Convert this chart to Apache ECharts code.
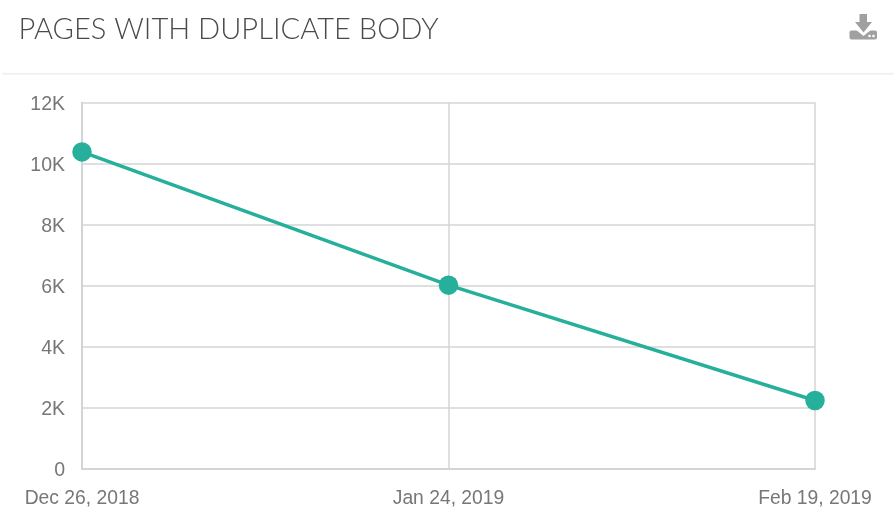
<!DOCTYPE html>
<html><head><meta charset="utf-8">
<style>html,body{margin:0;padding:0;background:#fff}#c{width:894px;height:529px}</style>
<script src="https://cdn.jsdelivr.net/npm/echarts@6/dist/echarts.min.js"></script>
</head><body><div id="c"></div>
<script>
const categories = ["Dec 26, 2018", "Jan 24, 2019", "Feb 19, 2019"];
const pages = [10380, 6010, 2230];
const titleText = "PAGES WITH DUPLICATE BODY";
const yMax = 12000, yStep = 2000;
const chart = echarts.init(document.getElementById('c'), null, {renderer:'canvas'});
const labelFont = '"Liberation Sans", Arial, sans-serif';
chart.setOption({
  animation:false,
  backgroundColor:'#fff',
  title:{text:titleText,left:13.5,top:10,textStyle:{fontFamily:'Lato, sans-serif',fontWeight:300,fontSize:29.1,color:'#4a4a4a'}},
  grid:{left:82,right:79,top:102.5,bottom:60.5,show:false},
  xAxis:{type:'category',data:categories,boundaryGap:false,
    axisLine:{show:true,lineStyle:{color:'#d4d4d4',width:2}},
    axisTick:{show:false},
    splitLine:{show:true,lineStyle:{color:'#d4d4d4',width:1.5}},
    axisLabel:{color:'#777',fontFamily:labelFont,fontSize:19.3,margin:21,showMinLabel:true,showMaxLabel:true,hideOverlap:false}},
  yAxis:{type:'value',min:0,max:yMax,interval:yStep,
    axisLine:{show:true,lineStyle:{color:'#d4d4d4',width:2}},
    axisTick:{show:false},
    splitLine:{show:true,lineStyle:{color:'#d4d4d4',width:1.5}},
    axisLabel:{margin:17,
      rich:{t:{color:'#777',fontFamily:labelFont,fontSize:19.5,padding:[4,0,0,0]}},
      formatter:v=>'{t|'+(v===0?'0':(v/1000)+'K')+'}'}},
  series:[{type:'line',data:pages,symbol:'circle',symbolSize:19.5,showSymbol:true,
    lineStyle:{color:'#26b09c',width:3.5},itemStyle:{color:'#26b09c'}}],
  graphic:[
    {type:'rect',shape:{x:2,y:73,width:892,height:1.5},style:{fill:'#eeeeee'},silent:true},
    {type:'rect',shape:{x:849.5,y:30.5,width:27.5,height:9,r:2},style:{fill:'#a0a0a0'},silent:true},
    {type:'polygon',shape:{points:[[855,29],[872,29],[863.5,36]]},style:{fill:'#fff'},silent:true},
    {type:'polygon',shape:{points:[[859.5,14],[867,14],[867,22],[872,22],[863.5,32.5],[855,22],[859.5,22]]},style:{fill:'#a0a0a0'},silent:true},
    {type:'circle',shape:{cx:869.5,cy:36,r:1.3},style:{fill:'#fff'},silent:true},
    {type:'circle',shape:{cx:873.5,cy:36,r:1.3},style:{fill:'#fff'},silent:true}
  ]
});
</script></body></html>
